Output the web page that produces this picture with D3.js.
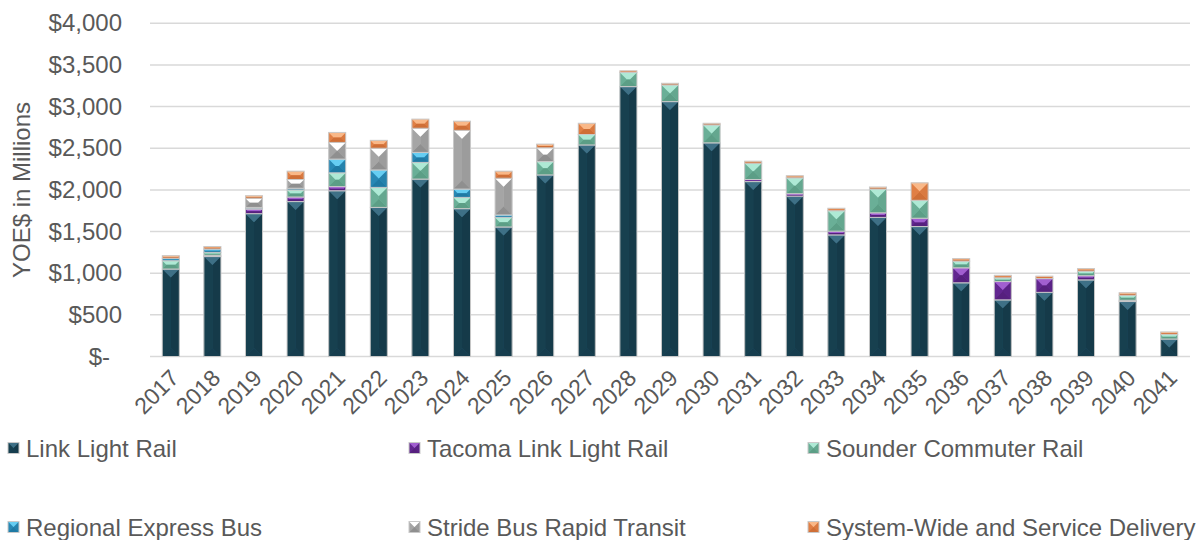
<!DOCTYPE html>
<html><head><meta charset="utf-8">
<script src="https://cdn.jsdelivr.net/npm/d3@7"></script>
<style>
html,body{margin:0;padding:0;background:#fff;}
svg{display:block;font-family:"Liberation Sans",Arial,sans-serif;}
</style></head>
<body>
<svg id="chart" width="1200" height="540"></svg>
<script>
const years = ["2017","2018","2019","2020","2021","2022","2023","2024","2025","2026","2027","2028","2029","2030","2031","2032","2033","2034","2035","2036","2037","2038","2039","2040","2041"];
const seriesNames = ["Link Light Rail","Tacoma Link Light Rail","Sounder Commuter Rail","Regional Express Bus","Stride Bus Rapid Transit","System-Wide and Service Delivery"];
const linkLightRail = [1050,1200,1715,1860,1990,1790,2130,1775,1555,2180,2540,3240,3060,2565,2100,1925,1460,1670,1560,885,680,770,920,660,210];
const tacomaLink    = [0,15,55,55,50,0,0,0,0,0,0,0,0,0,25,30,45,55,100,180,220,165,50,15,0];
const sounder       = [100,35,10,85,165,240,200,135,115,160,125,170,200,215,195,190,245,285,215,80,45,0,55,60,55];
const regionalBus   = [30,40,10,20,165,210,120,100,30,0,0,0,0,0,0,0,0,0,0,0,0,0,0,0,0];
const strideBRT     = [0,0,110,105,200,260,290,705,440,165,0,0,0,0,0,0,0,0,0,0,0,0,0,0,0];
const systemWide    = [30,30,30,100,120,95,110,110,85,45,135,20,20,20,25,25,30,25,210,30,30,30,30,30,30];
const yTicks = [0,500,1000,1500,2000,2500,3000,3500,4000];

const seriesData = [linkLightRail,tacomaLink,sounder,regionalBus,strideBRT,systemWide];
// colour sets: base, top facet, bottom facet, left side, right side
const palette = [
  {base:"#1f4f64", top:"#3e7086", bot:"#163d4e", left:"#17404f", right:"#153a49"},
  {base:"#7232a2", top:"#a15fd0", bot:"#56207e", left:"#622690", right:"#5a2286"},
  {base:"#7cc3aa", top:"#aee9d5", bot:"#5c9e86", left:"#6aaf97", right:"#64a78f"},
  {base:"#3099c9", top:"#65cdf2", bot:"#1f7aa4", left:"#2888b4", right:"#2582ac"},
  {base:"#b7b7b7", top:"#ffffff", bot:"#8f8f8f", left:"#a5a5a5", right:"#9c9c9c"},
  {base:"#f08f55", top:"#f9b888", bot:"#cf6f37", left:"#e07f45", right:"#d97a41"}
];

const table = years.map((y,i)=>{
  const o={year:y};
  seriesNames.forEach((s,j)=>o[s]=seriesData[j][i]);
  return o;
});
const stack = d3.stack().keys(seriesNames)(table);

const svg = d3.select("#chart");
const x = d3.scaleBand().domain(years).range([150,1190]).paddingInner(0.59).paddingOuter(0.295);
const y = d3.scaleLinear().domain([0,4000]).range([356.5,23.3]);

const textColor = "#595959";

// gridlines
svg.append("g").selectAll("line").data(yTicks).join("line")
  .attr("x1",150).attr("x2",1190)
  .attr("y1",d=>y(d)).attr("y2",d=>y(d))
  .attr("stroke","#d9d9d9").attr("stroke-width",1.5);

// y axis labels
const yAxis = d3.axisLeft(y).tickValues(yTicks)
  .tickFormat(d=> d===0 ? "$-" : "$"+d3.format(",")(d))
  .tickSize(0).tickPadding(0);
const gy = svg.append("g").attr("transform","translate(122,0)").call(yAxis);
gy.select(".domain").remove();
gy.selectAll("text").attr("fill",textColor).style("font-size","24px")
  .attr("font-family","Liberation Sans, Arial, sans-serif")
  .attr("dx",d=>d===0?-12:0);

// y title
svg.append("text").attr("transform","translate(30,190) rotate(-90)")
  .attr("text-anchor","middle").attr("fill",textColor).style("font-size","24px")
  .text("YOE$ in Millions");

// x axis labels
const xAxis = d3.axisBottom(x).tickSize(0).tickPadding(0);
const gx = svg.append("g").attr("transform","translate(0,357)").call(xAxis);
gx.select(".domain").remove();
gx.selectAll("text").attr("fill",textColor).style("font-size","23px")
  .attr("font-family","Liberation Sans, Arial, sans-serif")
  .attr("text-anchor","end").attr("dy","0.7em").attr("dx","0")
  .attr("transform","translate(-2,11) rotate(-45)");

// bevel segment drawing
function bevel(g, x0, x1, y0, y1, c){
  const w = x1-x0, h = y1-y0;
  if (h <= 0) return;
  const d = Math.min(w/2, h/2, 8.5);
  const P = pts => pts.map(p=>p.join(",")).join(" ");
  g.append("rect").attr("x",x0).attr("y",y0).attr("width",w).attr("height",h).attr("fill",c.base);
  g.append("polygon").attr("points",P([[x0,y0],[x0+d,y0+d],[x0+d,y1-d],[x0,y1]])).attr("fill",c.left);
  g.append("polygon").attr("points",P([[x1,y0],[x1-d,y0+d],[x1-d,y1-d],[x1,y1]])).attr("fill",c.right);
  g.append("polygon").attr("points",P([[x0,y0],[x1,y0],[x1-d,y0+d],[x0+d,y0+d]])).attr("fill",c.top);
  g.append("polygon").attr("points",P([[x0,y1],[x1,y1],[x1-d,y1-d],[x0+d,y1-d]])).attr("fill",c.bot);
  g.append("rect").attr("x",x0).attr("y",y0).attr("width",w).attr("height",h)
    .attr("fill","none").attr("stroke","#c9c9c9").attr("stroke-width",1);
}

const barsG = svg.append("g");
stack.forEach((layer,j)=>{
  layer.forEach((seg,i)=>{
    if (seg[1]-seg[0] <= 0) return;
    const x0 = x(years[i]), x1 = x0 + x.bandwidth();
    bevel(barsG.append("g"), x0, x1, y(seg[1]), y(seg[0]), palette[j]);
  });
});

// legend
const legendPos = [[8,448],[409,448],[808,448],[8,527],[409,527],[808,527]];
const lg = svg.append("g");
seriesNames.forEach((s,j)=>{
  const [lx,ly] = legendPos[j];
  const g = lg.append("g");
  bevel(g, lx, lx+11, ly-5.5, ly+5.5, palette[j]);
  lg.append("text").attr("x",lx+18).attr("y",ly).attr("dy","0.36em")
    .attr("fill",textColor).style("font-size","24px").text(s);
});
</script>
</body></html>
